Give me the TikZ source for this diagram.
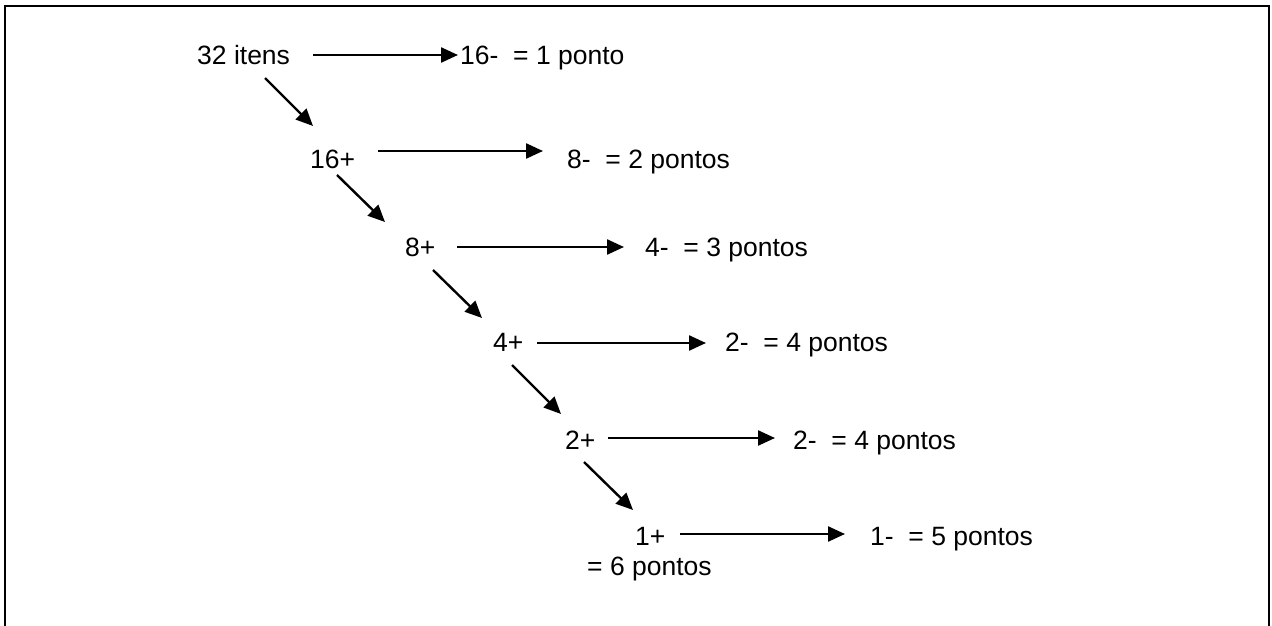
\documentclass[tikz,border=0pt]{standalone}
\usepackage{fontspec}
\setmainfont{Liberation Sans}
\usetikzlibrary{arrows.meta,calc}

\tikzset{
  lbl/.style={inner sep=0pt, anchor=base west, font=\fontsize{26.5pt}{31pt}\selectfont},
  arr/.style={line width=2.4pt, -{Triangle[length=17pt,width=15pt]}},
  frame/.style={line width=2.5pt}
}

\begin{document}
\begin{tikzpicture}[x=1pt,y=-1pt]
  \useasboundingbox (0,0) rectangle (1272,626);

  % open frame (bottom edge lies below the page)
  \draw[frame] (5,640) -- (5,6) -- (1269,6) -- (1269,640);

  % splitting chain
  \node[lbl] (n32) at (197,65)  {32 itens};
  \node[lbl] (p16) at (310,168) {16+};
  \node[lbl] (p8)  at (405,256) {8+};
  \node[lbl] (p4)  at (493,351) {4+};
  \node[lbl] (p2)  at (565,449) {2+};
  \node[lbl] (p1)  at (635,545) {1+};
  \node[lbl] (s6)  at (587,575) {= 6 pontos};

  % scores
  \node[lbl] (r1) at (460,65)  {16-\ \ = 1 ponto};
  \node[lbl] (r2) at (567,168) {8-\ \ = 2 pontos};
  \node[lbl] (r3) at (645,256) {4-\ \ = 3 pontos};
  \node[lbl] (r4) at (725,351) {2-\ \ = 4 pontos};
  \node[lbl] (r5) at (793,449) {2-\ \ = 4 pontos};
  \node[lbl] (r6) at (870,545) {1-\ \ = 5 pontos};

  % horizontal arrows
  \draw[arr] ($(n32.base west)+(116,-10)$) -- ($(r1.base west)+(-2,-10)$);
  \draw[arr] ($(p16.base west)+(68,-17)$)  -- ($(r2.base west)+(-24,-17)$);
  \draw[arr] ($(p8.base west)+(52,-9)$)    -- ($(r3.base west)+(-21,-9)$);
  \draw[arr] ($(p4.base west)+(44,-8)$)    -- ($(r4.base west)+(-19,-8)$);
  \draw[arr] ($(p2.base west)+(43,-11)$)   -- ($(r5.base west)+(-18,-11)$);
  \draw[arr] ($(p1.base west)+(45,-11)$)   -- ($(r6.base west)+(-25,-11)$);

  % diagonal arrows
  \draw[arr] ($(n32.base west)+(68,13)$) -- ($(p16.base west)+(3,-42)$);
  \draw[arr] ($(p16.base west)+(27,7)$)  -- ($(p8.base west)+(-20,-34)$);
  \draw[arr] ($(p8.base west)+(28,14)$)  -- ($(p4.base west)+(-11,-33)$);
  \draw[arr] ($(p4.base west)+(19,14)$)  -- ($(p2.base west)+(-4,-35)$);
  \draw[arr] ($(p2.base west)+(19,13)$)  -- ($(p1.base west)+(-2,-35)$);
\end{tikzpicture}
\end{document}
